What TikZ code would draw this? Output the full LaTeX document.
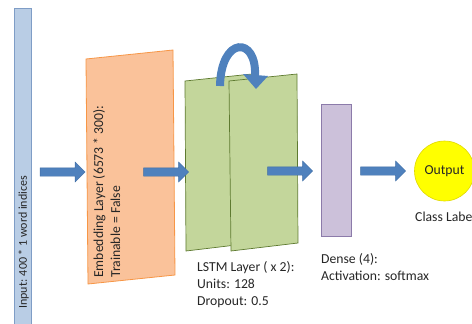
\documentclass[tikz,border=0pt]{standalone}
\usepackage{fontspec}
\setmainfont{Carlito}
\usetikzlibrary{shapes.arrows}
\definecolor{inblue}{HTML}{B9CDE5}
\definecolor{inblueb}{HTML}{7F9DC6}
\definecolor{arrblue}{HTML}{4F81BD}
\definecolor{arrblueb}{HTML}{3F6DA5}
\definecolor{embfill}{HTML}{FAC29A}
\definecolor{embline}{HTML}{F79646}
\definecolor{lstmfill}{HTML}{C3D69B}
\definecolor{lstmline}{HTML}{5E7A30}
\definecolor{densefill}{HTML}{CCC1DA}
\definecolor{denseline}{HTML}{8C7BAA}
\definecolor{outfill}{HTML}{FFFF00}
\definecolor{outline}{HTML}{E0D800}
\definecolor{txt}{HTML}{262626}
\tikzset{
  blockarrow/.style={single arrow, fill=arrblue, draw=arrblueb, line width=0.4pt,
    minimum height=45pt, inner xsep=0pt, inner ysep=4pt, single arrow head extend=5.8pt,
    outer sep=0pt},
  lbl/.style={font=\fontsize{13.7}{17}\selectfont, text=txt, inner sep=0pt, align=left},
}
\begin{document}
\begin{tikzpicture}[x=1pt,y=-1pt]
\useasboundingbox (0,0) rectangle (472,324);
% input bar
\path[fill=inblue, draw=inblueb, line width=0.8pt] (14,8) rectangle (31,330);
\node[lbl, font=\fontsize{12}{14}\selectfont, rotate=90, anchor=west] (intext) at (23.5,309) {Input: 400 * 1 word indices};
% embedding
\path[fill=embfill, draw=embline, line width=0.8pt] (86,59) -- (173,50) -- (175,275) -- (88,284) -- cycle;
\node[lbl, rotate=90, anchor=north west] (embtext) at (93,278) {Embedding Layer (6573 * 300):\\Trainable = False};
% LSTM panels
\path[fill=lstmfill, draw=lstmline, line width=0.7pt] (185,81) -- (252,74) -- (253,243) -- (186,251) -- cycle;
\path[fill=lstmfill, draw=lstmline, line width=0.7pt] (229,81) -- (297,74) -- (298,243) -- (231,251) -- cycle;
\node[lbl, anchor=north west] (lstmtext) at (197,261) {LSTM Layer ( x 2):\\Units: 128\\Dropout: 0.5};
% recurrent arrow
\draw[arrblue, line width=8pt] (220,86) .. controls (221,36) and (257,36) .. (255,76);
\path[fill=arrblue] (243,74) -- (268,76) -- (256,89) -- cycle;
% dense
\path[fill=densefill, draw=denseline, line width=0.8pt] (321,104) rectangle (351,236);
\node[lbl, anchor=north west] (densetext) at (321,253) {Dense (4):\\Activation: softmax};
% output
\node[circle, fill=outfill, draw=outline, line width=0.6pt, minimum size=60pt, inner sep=0pt,
  font=\fontsize{13.7}{16}\selectfont, text=txt] (out) at (444.5,171) {Output};
\node[lbl, anchor=west] (cls) at (415,217) {Class Label};
% block arrows
\node[blockarrow] (a1) at (60.5,172) {};
\node[blockarrow] (a2) at (164,172) {};
\node[blockarrow] (a3) at (288,171) {};
\node[blockarrow] (a4) at (381,171) {};
\end{tikzpicture}
\end{document}
